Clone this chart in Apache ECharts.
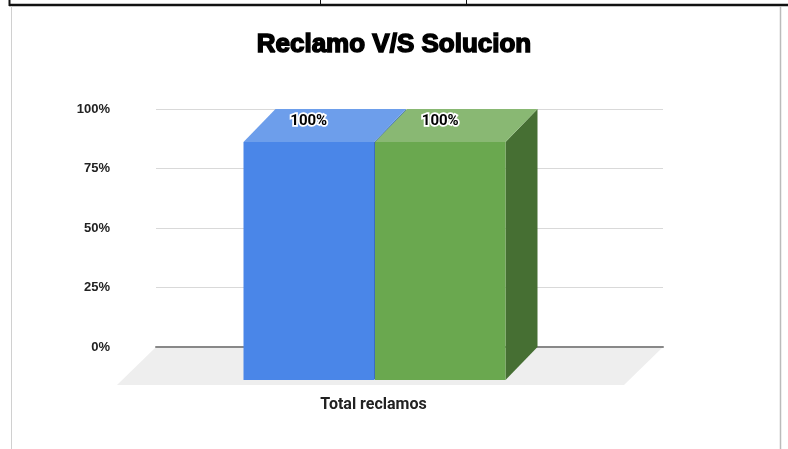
<!DOCTYPE html>
<html>
<head>
<meta charset="utf-8">
<script src="https://cdn.jsdelivr.net/npm/echarts@6/dist/echarts.min.js"></script>
<style>
  html, body { margin: 0; padding: 0; background: #fff; }
  #chart { width: 788px; height: 449px; }
</style>
</head>
<body>
<div id="chart"></div>
<script>
const categories = ['Total reclamos']
const seriesNames = ['Reclamo', 'Solucion']
const reclamoValues = [1]
const solucionValues = [1]
const yTicks = [0, 0.25, 0.5, 0.75, 1]

// 3d look: offset of the front plane from the back (grid) plane
const DX = -32
const DY = 33
const FLOOR_DX = -39
const FLOOR_DY = 38
const BAR_RATIO = 0.2574
const SHIFT = -3

const colors = [
  { front: '#4a86e8', top: '#6d9eeb', side: '#3a6cc0' },
  { front: '#6aa84f', top: '#89b873', side: '#466f33' }
]

const pct = v => Math.round(v * 100) + '%'

function bar3d (k) {
  return function (params, api) {
    const cat = api.value(0)
    const val = api.value(1)
    const base = api.coord([cat, 0])
    const top = api.coord([cat, val])
    const band = api.size([1, 0])[0]
    const w = band * BAR_RATIO
    const left = base[0] + SHIFT + (k === 0 ? -w - 0.5 : 0.5)
    const right = left + w
    const c = colors[k]
    return {
      type: 'group',
      children: [
        {
          type: 'polygon',
          shape: { points: [[right, top[1]], [right, base[1]], [right + DX, base[1] + DY], [right + DX, top[1] + DY]] },
          style: { fill: c.side }
        },
        {
          type: 'polygon',
          shape: { points: [[left, top[1]], [right, top[1]], [right + DX, top[1] + DY], [left + DX, top[1] + DY]] },
          style: { fill: c.top }
        },
        {
          type: 'rect',
          shape: { x: left + DX, y: top[1] + DY, width: w, height: base[1] - top[1] },
          style: { fill: c.front }
        },
        {
          type: 'text',
          style: {
            text: pct(val),
            x: left + DX + w / 2,
            y: top[1] + 12.5,
            align: 'center',
            verticalAlign: 'middle',
            font: 'bold 15px Roboto',
            fill: '#000',
            stroke: '#fff',
            lineWidth: 3.5
          }
        }
      ]
    }
  }
}

function floor (params, api) {
  const cs = params.coordSys
  const y = cs.y + cs.height
  return {
    type: 'polygon',
    shape: {
      points: [[cs.x, y], [cs.x + cs.width, y], [cs.x + cs.width + FLOOR_DX, y + FLOOR_DY], [cs.x + FLOOR_DX, y + FLOOR_DY]]
    },
    style: { fill: '#eeeeee' }
  }
}

const myChart = echarts.init(document.getElementById('chart'), null, { width: 788, height: 449 })

const option = {
  animation: false,
  title: {
    text: 'Reclamo V/S Solucion',
    left: 'center',
    top: 27,
    textStyle: {
      fontFamily: 'Liberation Sans',
      fontWeight: 'bold',
      fontSize: 26,
      color: '#000',
      textBorderColor: '#000',
      textBorderWidth: 1.5
    }
  },
  grid: { left: 156, right: 125, top: 109, bottom: 102 },
  xAxis: {
    type: 'category',
    data: categories,
    z: 1,
    axisLine: { lineStyle: { color: '#888', width: 2 } },
    axisTick: { show: false },
    axisLabel: {
      margin: 50,
      padding: [0, 72, 0, 0],
      fontFamily: 'Roboto',
      fontWeight: 'bold',
      fontSize: 16,
      color: '#222'
    }
  },
  yAxis: {
    type: 'value',
    min: yTicks[0],
    max: yTicks[yTicks.length - 1],
    interval: yTicks[1] - yTicks[0],
    axisLine: { show: false },
    axisTick: { show: false },
    splitLine: { lineStyle: { color: '#d9d9d9' } },
    axisLabel: {
      margin: 46,
      formatter: pct,
      fontFamily: 'Liberation Sans',
      fontWeight: 'bold',
      fontSize: 13,
      color: '#222'
    }
  },
  series: [
    {
      type: 'custom',
      name: 'floor',
      z: -1,
      silent: true,
      renderItem: floor,
      data: [[0, 0]]
    },
    {
      type: 'custom',
      name: seriesNames[0],
      renderItem: bar3d(0),
      data: reclamoValues.map((v, i) => [i, v])
    },
    {
      type: 'custom',
      name: seriesNames[1],
      renderItem: bar3d(1),
      data: solucionValues.map((v, i) => [i, v])
    }
  ],
  graphic: [
    { type: 'line', shape: { x1: 9, y1: 5, x2: 788, y2: 5 }, style: { stroke: '#111', lineWidth: 2.5 } },
    { type: 'line', shape: { x1: 9.5, y1: 0, x2: 9.5, y2: 6 }, style: { stroke: '#111', lineWidth: 2 } },
    { type: 'line', shape: { x1: 320.5, y1: 0, x2: 320.5, y2: 5 }, style: { stroke: '#111', lineWidth: 1 } },
    { type: 'line', shape: { x1: 466.5, y1: 0, x2: 466.5, y2: 5 }, style: { stroke: '#111', lineWidth: 1 } },
    { type: 'line', shape: { x1: 11.5, y1: 6, x2: 11.5, y2: 449 }, style: { stroke: '#d0d0d0', lineWidth: 1 } },
    { type: 'line', shape: { x1: 780.5, y1: 6, x2: 780.5, y2: 449 }, style: { stroke: '#bbb', lineWidth: 1.5 } }
  ]
}

myChart.setOption(option)
</script>
</body>
</html>
